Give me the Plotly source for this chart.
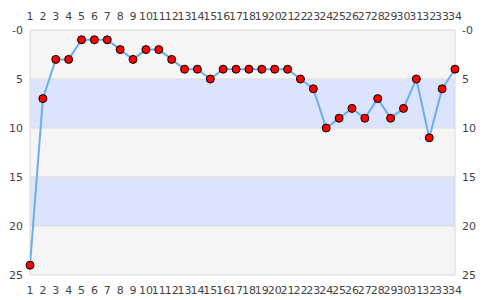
import plotly.graph_objects as go

x_vals = list(range(1, 35))
y_vals = [24, 7, 3, 3, 1, 1, 1, 2, 3, 2, 2, 3, 4, 4, 5, 4, 4, 4, 4, 4, 4, 5, 6, 10, 9, 8, 9, 7, 9, 8, 5, 11, 6, 4]
y_tickvals = [0, 5, 10, 15, 20, 25]
y_ticktext = ["-0", "5", "10", "15", "20", "25"]
band_edges = [0, 5, 10, 15, 20, 25]
band_colors = ["#f5f5f5", "#dce3fd", "#f5f5f5", "#dce3fd", "#f5f5f5"]

fig = go.Figure()
fig.add_trace(go.Scatter(
    x=x_vals, y=y_vals, mode="lines+markers",
    line=dict(color="#6aaef2", width=2),
    marker=dict(color="#ff0000", size=8, line=dict(color="#000000", width=1)),
    cliponaxis=False, hoverinfo="skip", showlegend=False))
fig.add_trace(go.Scatter(x=x_vals, y=y_vals, xaxis="x2", yaxis="y2",
                         mode="markers", marker=dict(opacity=0), showlegend=False, hoverinfo="skip"))

shapes = []
for i in range(len(band_colors)):
    shapes.append(dict(type="rect", xref="paper", yref="y", x0=0, x1=1,
                       y0=band_edges[i], y1=band_edges[i + 1],
                       fillcolor=band_colors[i], line=dict(width=0), layer="below"))
for e in band_edges[1:-1]:
    shapes.append(dict(type="line", xref="paper", yref="y", x0=0, x1=1, y0=e, y1=e,
                       line=dict(color="#dddddd", width=1), layer="below"))
shapes.append(dict(type="rect", xref="paper", yref="paper", x0=0, x1=1, y0=0, y1=1,
                   line=dict(color="#d8d8d8", width=1), layer="below"))

tickfont = dict(family="DejaVu Sans", size=11, color="#444444")
common_x = dict(range=[1, 34], tickmode="array", tickvals=x_vals, ticktext=[str(v) for v in x_vals],
                showgrid=False, zeroline=False, showline=False, ticks="", tickfont=tickfont,
                tickangle=0, automargin=False, ticklabelstandoff=7)
common_y = dict(range=[25, 0], tickmode="array", tickvals=y_tickvals, ticktext=y_ticktext,
                showgrid=False, zeroline=False, showline=False, ticks="", tickfont=tickfont,
                automargin=False, ticklabelstandoff=6)
fig.update_layout(
    width=485, height=300,
    margin=dict(l=30, r=30, t=30, b=25),
    paper_bgcolor="white", plot_bgcolor="rgba(0,0,0,0)",
    shapes=shapes,
    xaxis=dict(**common_x),
    xaxis2=dict(**common_x, overlaying="x", side="top"),
    yaxis=dict(**common_y),
    yaxis2=dict(**common_y, overlaying="y", side="right"),
)
fig.write_html("out.html")
